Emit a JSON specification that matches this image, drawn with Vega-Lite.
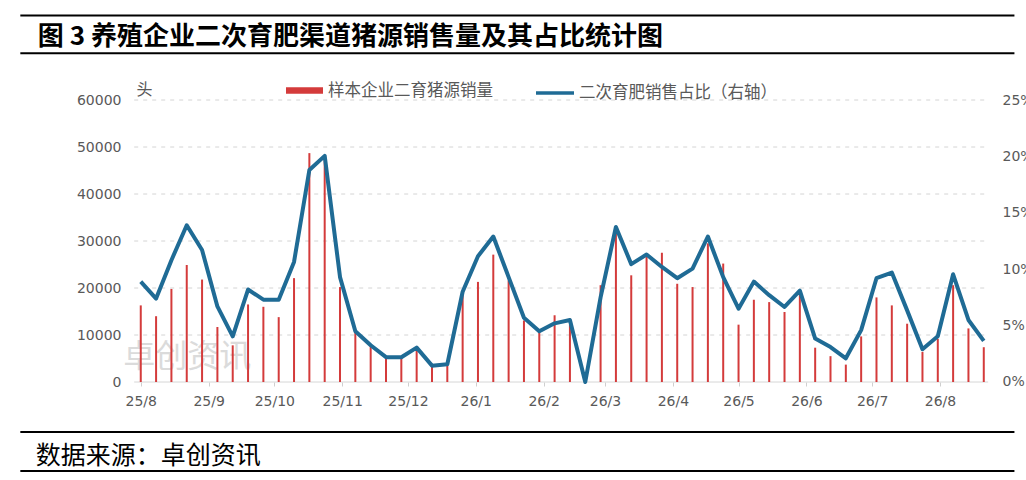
{
  "$schema": "https://vega.github.io/schema/vega-lite/v6.json",
  "width": 1026,
  "height": 480,
  "autosize": "none",
  "padding": 0,
  "background": "white",
  "config": {"view": {"stroke": null}},
  "datasets": {
    "weekly": [
      {"week": "2025-08-01", "sales": 16300, "share": 8.9},
      {"week": "2025-08-08", "sales": 14000, "share": 7.4},
      {"week": "2025-08-15", "sales": 19800, "share": 10.8},
      {"week": "2025-08-22", "sales": 24900, "share": 13.9},
      {"week": "2025-08-29", "sales": 21800, "share": 11.7},
      {"week": "2025-09-05", "sales": 11700, "share": 6.7},
      {"week": "2025-09-12", "sales": 7800, "share": 4.05},
      {"week": "2025-09-19", "sales": 16500, "share": 8.2},
      {"week": "2025-09-26", "sales": 16000, "share": 7.3},
      {"week": "2025-10-03", "sales": 13800, "share": 7.3},
      {"week": "2025-10-10", "sales": 22100, "share": 10.65},
      {"week": "2025-10-17", "sales": 48700, "share": 18.8},
      {"week": "2025-10-24", "sales": 47800, "share": 20.05},
      {"week": "2025-10-31", "sales": 20200, "share": 9.3},
      {"week": "2025-11-07", "sales": 11100, "share": 4.5},
      {"week": "2025-11-14", "sales": 7800, "share": 3.26},
      {"week": "2025-11-21", "sales": 5300, "share": 2.2},
      {"week": "2025-11-28", "sales": 5300, "share": 2.2},
      {"week": "2025-12-05", "sales": 6900, "share": 3.05},
      {"week": "2025-12-12", "sales": 3500, "share": 1.45},
      {"week": "2025-12-19", "sales": 3800, "share": 1.57},
      {"week": "2025-12-26", "sales": 18800, "share": 8.0},
      {"week": "2026-01-02", "sales": 21300, "share": 11.15},
      {"week": "2026-01-09", "sales": 27100, "share": 12.9},
      {"week": "2026-01-16", "sales": 21600, "share": 9.3},
      {"week": "2026-01-23", "sales": 13100, "share": 5.7},
      {"week": "2026-01-30", "sales": 10600, "share": 4.5},
      {"week": "2026-02-06", "sales": 14200, "share": 5.2},
      {"week": "2026-02-13", "sales": 13500, "share": 5.5},
      {"week": "2026-02-20", "sales": 0, "share": 0},
      {"week": "2026-02-27", "sales": 20600, "share": 7.5},
      {"week": "2026-03-06", "sales": 31500, "share": 13.75},
      {"week": "2026-03-13", "sales": 22700, "share": 10.45},
      {"week": "2026-03-20", "sales": 26600, "share": 11.3},
      {"week": "2026-03-27", "sales": 27500, "share": 10.2},
      {"week": "2026-04-03", "sales": 20900, "share": 9.2},
      {"week": "2026-04-10", "sales": 20200, "share": 10.05},
      {"week": "2026-04-17", "sales": 29500, "share": 12.9},
      {"week": "2026-04-24", "sales": 25200, "share": 9.3},
      {"week": "2026-05-01", "sales": 12200, "share": 6.5},
      {"week": "2026-05-08", "sales": 17500, "share": 8.9},
      {"week": "2026-05-15", "sales": 17000, "share": 7.7},
      {"week": "2026-05-22", "sales": 14900, "share": 6.65},
      {"week": "2026-05-29", "sales": 18500, "share": 8.1},
      {"week": "2026-06-05", "sales": 7300, "share": 3.85},
      {"week": "2026-06-12", "sales": 5500, "share": 3.1},
      {"week": "2026-06-19", "sales": 3700, "share": 2.1},
      {"week": "2026-06-26", "sales": 9700, "share": 4.6},
      {"week": "2026-07-03", "sales": 18000, "share": 9.2},
      {"week": "2026-07-10", "sales": 16300, "share": 9.7},
      {"week": "2026-07-17", "sales": 12400, "share": 6.35},
      {"week": "2026-07-24", "sales": 6400, "share": 2.9},
      {"week": "2026-07-31", "sales": 9200, "share": 4.05},
      {"week": "2026-08-07", "sales": 20600, "share": 9.55},
      {"week": "2026-08-14", "sales": 11400, "share": 5.5},
      {"week": "2026-08-21", "sales": 7400, "share": 3.65}
    ],
    "gridlines": [
      {"v": 10000}, {"v": 20000}, {"v": 30000}, {"v": 40000}, {"v": 50000}, {"v": 60000}
    ]
  },
  "layer": [
    {
      "data": {"values": [{}]},
      "mark": {"type": "text", "text": "卓创资讯", "font": "Noto Sans CJK SC", "fontSize": 32, "color": "#c4c4c4", "opacity": 0.6, "align": "left", "baseline": "middle"},
      "encoding": {
        "x": {"datum": {"year": 2025, "month": 7, "date": 24, "utc": true}, "type": "temporal", "axis": null},
        "y": {"datum": 5400, "type": "quantitative", "scale": {"domain": [-20851, 81277], "nice": false, "zero": false}, "axis": null}
      }
    },
    {
      "data": {"name": "gridlines"},
      "mark": {"type": "rule", "color": "#d4d4d4", "strokeWidth": 1, "strokeDash": [4, 5]},
      "encoding": {
        "x": {"datum": {"year": 2025, "month": 7, "date": 29, "utc": true}, "type": "temporal", "axis": null},
        "x2": {"datum": {"year": 2026, "month": 8, "date": 23, "utc": true}},
        "y": {"field": "v", "type": "quantitative", "scale": {"domain": [-20851, 81277], "nice": false, "zero": false}, "axis": null}
      }
    },
    {
      "data": {"values": [{}]},
      "mark": {"type": "rule", "color": "#d6d6d6", "strokeWidth": 1},
      "encoding": {
        "x": {"datum": {"year": 2025, "month": 7, "date": 29, "utc": true}, "type": "temporal", "axis": null},
        "x2": {"datum": {"year": 2026, "month": 8, "date": 23, "utc": true}},
        "y": {"datum": 0, "type": "quantitative", "scale": {"domain": [-20851, 81277], "nice": false, "zero": false}, "axis": null}
      }
    },
    {
      "data": {"values": [{}]},
      "mark": {"type": "rule", "color": "#000000", "strokeWidth": 2},
      "encoding": {
        "x": {"datum": {"year": 2025, "month": 6, "date": 7, "utc": true}, "type": "temporal", "axis": null},
        "x2": {"datum": {"year": 2026, "month": 9, "date": 4, "utc": true}},
        "y": {"datum": 78000, "type": "quantitative", "scale": {"domain": [-20851, 81277], "nice": false, "zero": false}, "axis": null}
      }
    },
    {
      "data": {"values": [{}]},
      "mark": {"type": "rule", "color": "#000000", "strokeWidth": 2},
      "encoding": {
        "x": {"datum": {"year": 2025, "month": 6, "date": 7, "utc": true}, "type": "temporal", "axis": null},
        "x2": {"datum": {"year": 2026, "month": 9, "date": 4, "utc": true}},
        "y": {"datum": 69950, "type": "quantitative", "scale": {"domain": [-20851, 81277], "nice": false, "zero": false}, "axis": null}
      }
    },
    {
      "data": {"values": [{}]},
      "mark": {"type": "rule", "color": "#000000", "strokeWidth": 2},
      "encoding": {
        "x": {"datum": {"year": 2025, "month": 6, "date": 7, "utc": true}, "type": "temporal", "axis": null},
        "x2": {"datum": {"year": 2026, "month": 9, "date": 4, "utc": true}},
        "y": {"datum": -10638, "type": "quantitative", "scale": {"domain": [-20851, 81277], "nice": false, "zero": false}, "axis": null}
      }
    },
    {
      "data": {"values": [{}]},
      "mark": {"type": "rule", "color": "#000000", "strokeWidth": 2},
      "encoding": {
        "x": {"datum": {"year": 2025, "month": 6, "date": 7, "utc": true}, "type": "temporal", "axis": null},
        "x2": {"datum": {"year": 2026, "month": 9, "date": 4, "utc": true}},
        "y": {"datum": -18936, "type": "quantitative", "scale": {"domain": [-20851, 81277], "nice": false, "zero": false}, "axis": null}
      }
    },
    {
      "data": {"values": [{}]},
      "mark": {"type": "text", "text": "图 3 养殖企业二次育肥渠道猪源销售量及其占比统计图", "font": "Noto Sans CJK SC", "fontSize": 26, "fontWeight": "bold", "color": "#000000", "align": "left", "baseline": "middle"},
      "encoding": {
        "x": {"datum": {"year": 2025, "month": 6, "date": 15, "utc": true}, "type": "temporal", "axis": null},
        "y": {"datum": 73300, "type": "quantitative", "scale": {"domain": [-20851, 81277], "nice": false, "zero": false}, "axis": null}
      }
    },
    {
      "data": {"values": [{}]},
      "mark": {"type": "text", "text": "数据来源：卓创资讯", "font": "Noto Sans CJK SC", "fontSize": 25, "color": "#000000", "align": "left", "baseline": "middle"},
      "encoding": {
        "x": {"datum": {"year": 2025, "month": 6, "date": 14, "utc": true}, "type": "temporal", "axis": null},
        "y": {"datum": -15745, "type": "quantitative", "scale": {"domain": [-20851, 81277], "nice": false, "zero": false}, "axis": null}
      }
    },
    {
      "data": {"name": "weekly"},
      "mark": {"type": "bar", "size": 2, "color": "#d43b3b"},
      "encoding": {
        "x": {
          "field": "week",
          "type": "temporal",
          "scale": {
            "type": "utc",
            "domain": [
              {"year": 2025, "month": 5, "date": 31, "utc": true},
              {"year": 2026, "month": 9, "date": 7, "utc": true}
            ]
          },
          "axis": {
            "values": [
              {"year": 2025, "month": 8, "date": 1, "utc": true},
              {"year": 2025, "month": 9, "date": 1, "utc": true},
              {"year": 2025, "month": 10, "date": 1, "utc": true},
              {"year": 2025, "month": 11, "date": 1, "utc": true},
              {"year": 2025, "month": 12, "date": 1, "utc": true},
              {"year": 2026, "month": 1, "date": 1, "utc": true},
              {"year": 2026, "month": 2, "date": 1, "utc": true},
              {"year": 2026, "month": 3, "date": 1, "utc": true},
              {"year": 2026, "month": 4, "date": 1, "utc": true},
              {"year": 2026, "month": 5, "date": 1, "utc": true},
              {"year": 2026, "month": 6, "date": 1, "utc": true},
              {"year": 2026, "month": 7, "date": 1, "utc": true},
              {"year": 2026, "month": 8, "date": 1, "utc": true}
            ],
            "labelExpr": "utcFormat(datum.value, '%y/%-m')",
            "orient": "bottom",
            "offset": -98,
            "domain": false,
            "grid": false,
            "ticks": true,
            "tickColor": "#cfcfcf",
            "tickSize": 4,
            "labelPadding": 8,
            "labelFont": "DejaVu Sans",
            "labelFontSize": 14,
            "labelColor": "#595959",
            "labelOverlap": false,
            "labelFlush": false,
            "title": null
          }
        },
        "y": {
          "field": "sales",
          "type": "quantitative",
          "scale": {"domain": [-20851, 81277], "nice": false, "zero": false},
          "axis": {
            "orient": "left",
            "values": [0, 10000, 20000, 30000, 40000, 50000, 60000],
            "format": "d",
            "offset": -129,
            "domain": false,
            "ticks": false,
            "grid": false,
            "labelPadding": 8,
            "labelFont": "DejaVu Sans",
            "labelFontSize": 14,
            "labelColor": "#595959",
            "title": "头",
            "titleAngle": 0,
            "titleX": 15,
            "titleY": 89,
            "titleAlign": "center",
            "titleBaseline": "middle",
            "titleFont": "Noto Sans CJK SC",
            "titleFontSize": 16,
            "titleFontWeight": "normal",
            "titleColor": "#595959"
          }
        },
        "fill": {
          "datum": "样本企业二育猪源销量",
          "type": "nominal",
          "scale": {"range": ["#d43b3b"]},
          "legend": {
            "orient": "none",
            "legendX": 286,
            "legendY": 72,
            "title": null,
            "padding": 0,
            "symbolType": "M-1,-0.17H1V0.17H-1Z",
            "symbolSize": 1369,
            "symbolStrokeWidth": 0,
            "labelFont": "Noto Sans CJK SC",
            "labelFontSize": 16.5,
            "labelColor": "#595959",
            "labelOffset": 5,
            "labelLimit": 400,
            "encode": {"symbols": {"update": {"fill": {"value": "#c00000"}}}}
          }
        }
      }
    },
    {
      "data": {"name": "weekly"},
      "mark": {"type": "line", "color": "#1f6b95", "strokeWidth": 4, "strokeJoin": "round"},
      "encoding": {
        "x": {"field": "week", "type": "temporal", "axis": null},
        "y": {
          "field": "share",
          "type": "quantitative",
          "scale": {"domain": [-8.69, 33.87], "nice": false, "zero": false},
          "axis": {
            "orient": "right",
            "values": [0, 5, 10, 15, 20, 25],
            "labelExpr": "datum.value + '%'",
            "offset": -27,
            "domain": false,
            "ticks": false,
            "grid": false,
            "labelPadding": 3,
            "labelFont": "DejaVu Sans",
            "labelFontSize": 14,
            "labelColor": "#595959",
            "title": null
          }
        },
        "stroke": {
          "datum": "二次育肥销售占比（右轴）",
          "type": "nominal",
          "scale": {"range": ["#1f6b95"]},
          "legend": {
            "orient": "none",
            "legendX": 534,
            "legendY": 72,
            "title": null,
            "padding": 0,
            "symbolType": "M-1,0H1",
            "symbolSize": 1444,
            "symbolStrokeWidth": 3.5,
            "labelFont": "Noto Sans CJK SC",
            "labelFontSize": 16.5,
            "labelColor": "#595959",
            "labelOffset": 3,
            "labelLimit": 400,
            "encode": {"symbols": {"update": {"stroke": {"value": "#2f7cb2"}}}}
          }
        }
      }
    }
  ],
  "resolve": {"scale": {"y": "independent"}, "axis": {"x": "independent"}}
}
